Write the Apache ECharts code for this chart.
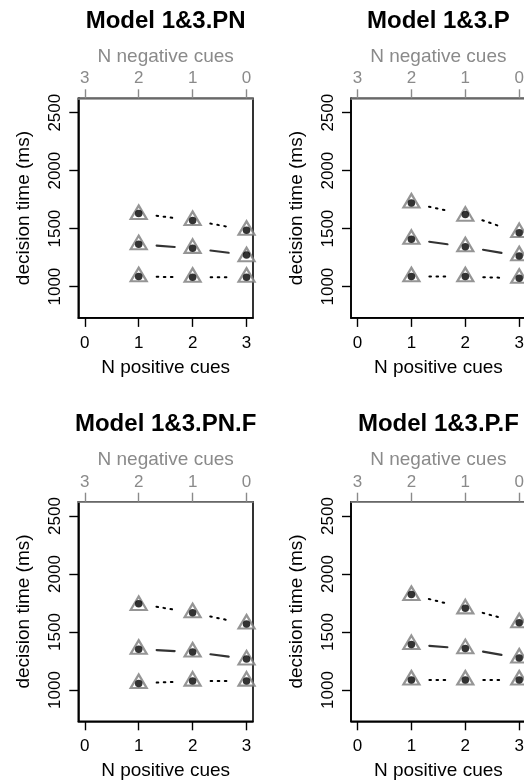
<!DOCTYPE html>
<html><head><meta charset="utf-8">
<script src="https://cdn.jsdelivr.net/npm/echarts@6/dist/echarts.min.js"></script>
<style>html,body{margin:0;padding:0;background:#fff}#c{width:524px;height:783px}</style>
</head><body><div id="c"></div>
<script>
// ---------- data ----------
const panelTitles = ['Model 1&3.PN', 'Model 1&3.P', 'Model 1&3.PN.F', 'Model 1&3.P.F'];
const positiveCues = [1, 2, 3];
const posTickValues = [0, 1, 2, 3];
const negTickValues = [0, 1, 2, 3];
const yTickValues = [1000, 1500, 2000, 2500];

// filled dots
const dotPN_high = [1631, 1571, 1487];
const dotPN_mid  = [1365, 1330, 1273];
const dotPN_low  = [1086, 1081, 1081];
const dotP_high  = [1722, 1622, 1464];
const dotP_mid   = [1408, 1344, 1264];
const dotP_low   = [1086, 1086, 1072];
const dotPNF_high = [1744, 1666, 1569];
const dotPNF_mid  = [1352, 1328, 1268];
const dotPNF_low  = [1057, 1077, 1077];
const dotPF_high  = [1823, 1706, 1580];
const dotPF_mid   = [1392, 1357, 1277];
const dotPF_low   = [1086, 1086, 1086];

// open triangles
const triPN_high = [1622, 1571, 1487];
const triPN_mid  = [1362, 1330, 1258];
const triPN_low  = [1086, 1081, 1081];
const triP_high  = [1722, 1608, 1466];
const triP_mid   = [1408, 1344, 1266];
const triP_low   = [1086, 1086, 1072];
const triPNF_high = [1730, 1666, 1569];
const triPNF_mid  = [1352, 1328, 1260];
const triPNF_low  = [1057, 1077, 1077];
const triPF_high  = [1815, 1700, 1580];
const triPF_mid   = [1392, 1357, 1277];
const triPF_low   = [1086, 1086, 1086];

const panelDots = [
  [dotPN_high, dotPN_mid, dotPN_low],
  [dotP_high, dotP_mid, dotP_low],
  [dotPNF_high, dotPNF_mid, dotPNF_low],
  [dotPF_high, dotPF_mid, dotPF_low]
];
const panelTris = [
  [triPN_high, triPN_mid, triPN_low],
  [triP_high, triP_mid, triP_low],
  [triPNF_high, triPNF_mid, triPNF_low],
  [triPF_high, triPF_mid, triPF_low]
];

// ---------- layout ----------
const FONT = '"Liberation Sans", Arial, Helvetica, sans-serif';
const GRAY = '#8a8a8a';
const boxes = [
  {left: 78.3, top: 98.3},
  {left: 351, top: 98.3},
  {left: 78.3, top: 501.7},
  {left: 351, top: 501.7}
];
const BW = 174.7, BH = 219.6;
const lineStyles = [
  {dash: [1.6, 5.5], color: '#000', width: 2},
  {dash: null, color: '#333', width: 2.2},
  {dash: [1.6, 5.5], color: '#000', width: 2}
];

function zip(xs, ys) { return xs.map((x, i) => [x, ys[i]]); }
function segs(xs, ys) {
  const out = [];
  for (let i = 0; i < xs.length - 1; i++) out.push([xs[i], ys[i], xs[i + 1], ys[i + 1]]);
  return out;
}
function gapRender(st) {
  return function (params, api) {
    const a = api.coord([api.value(0), api.value(1)]);
    const b = api.coord([api.value(2), api.value(3)]);
    const dx = b[0] - a[0], dy = b[1] - a[1], L = Math.hypot(dx, dy);
    const g = 18, ux = dx / L, uy = dy / L;
    return {
      type: 'line',
      shape: {x1: a[0] + ux * g, y1: a[1] + uy * g, x2: b[0] - ux * g, y2: b[1] - uy * g},
      style: {stroke: st.color, lineWidth: st.width, lineDash: st.dash, lineCap: 'round'}
    };
  };
}
const plain = v => String(v);

const grid = [], xAxis = [], yAxis = [], series = [], title = [];
boxes.forEach((b, p) => {
  grid.push({left: b.left, top: b.top, width: BW, height: BH, show: true, containLabel: false,
    outerBoundsMode: 'none',
    borderColor: '#000', borderWidth: 1.6, backgroundColor: 'transparent'});
  title.push({text: panelTitles[p], left: b.left + BW / 2, top: b.top - 89, textAlign: 'center', padding: 0,
    textStyle: {fontFamily: FONT, fontSize: 24, fontWeight: 'bold', color: '#000'}});
  // bottom axis
  xAxis.push({type: 'value', gridIndex: p, position: 'bottom', min: -0.12, max: 3.12,
    name: 'N positive cues', nameLocation: 'middle', nameGap: 40,
    nameTextStyle: {fontFamily: FONT, fontSize: 19, color: '#000'},
    axisLine: {show: true, onZero: false, lineStyle: {color: '#000', width: 1.6}},
    axisTick: {show: true, inside: false, length: 9, customValues: posTickValues, lineStyle: {color: '#000', width: 1.4}},
    axisLabel: {customValues: posTickValues, formatter: plain, margin: 17, fontFamily: FONT, fontSize: 17, color: '#000'},
    splitLine: {show: false}});
  // top axis (negative cues)
  xAxis.push({type: 'value', gridIndex: p, position: 'top', inverse: true, min: -0.12, max: 3.12,
    name: 'N negative cues', nameLocation: 'middle', nameGap: 32,
    nameTextStyle: {fontFamily: FONT, fontSize: 19, color: GRAY},
    axisLine: {show: true, onZero: false, lineStyle: {color: GRAY, width: 1.6}},
    axisTick: {show: true, inside: false, length: 9, customValues: negTickValues, lineStyle: {color: GRAY, width: 1.4}},
    axisLabel: {customValues: negTickValues, formatter: plain, margin: 11, fontFamily: FONT, fontSize: 17, color: GRAY},
    splitLine: {show: false}});
  yAxis.push({type: 'value', gridIndex: p, position: 'left', min: 730, max: 2624,
    name: 'decision time (ms)', nameLocation: 'middle', nameGap: 45, nameRotate: 90,
    nameTextStyle: {fontFamily: FONT, fontSize: 19, color: '#000'},
    axisLine: {show: true, onZero: false, lineStyle: {color: '#000', width: 1.6}},
    axisTick: {show: true, inside: false, length: 9, customValues: yTickValues, lineStyle: {color: '#000', width: 1.4}},
    axisLabel: {customValues: yTickValues, formatter: plain, rotate: 90, margin: 14, fontFamily: FONT, fontSize: 17, color: '#000'},
    splitLine: {show: false}});
  const xi = p * 2;
  for (let k = 0; k < 3; k++) {
    series.push({type: 'custom', xAxisIndex: xi, yAxisIndex: p, coordinateSystem: 'cartesian2d',
      encode: {x: [0, 2], y: [1, 3]}, renderItem: gapRender(lineStyles[k]),
      data: segs(positiveCues, panelDots[p][k]), silent: true, z: 2});
    series.push({type: 'scatter', xAxisIndex: xi, yAxisIndex: p, symbol: 'triangle',
      symbolSize: [16, 13.5], symbolOffset: [0, -2.2],
      itemStyle: {color: '#fff', borderColor: '#7a7a7a', borderWidth: 2.2},
      data: zip(positiveCues, panelTris[p][k]), silent: true, z: 3});
    series.push({type: 'scatter', xAxisIndex: xi, yAxisIndex: p, symbol: 'circle',
      symbolSize: 7.5, itemStyle: {color: '#000'},
      data: zip(positiveCues, panelDots[p][k]), silent: true, z: 4});
  }
});

const chart = echarts.init(document.getElementById('c'), null, {renderer: 'canvas'});
chart.setOption({animation: false, backgroundColor: '#fff', title, grid, xAxis, yAxis, series});
</script></body></html>
